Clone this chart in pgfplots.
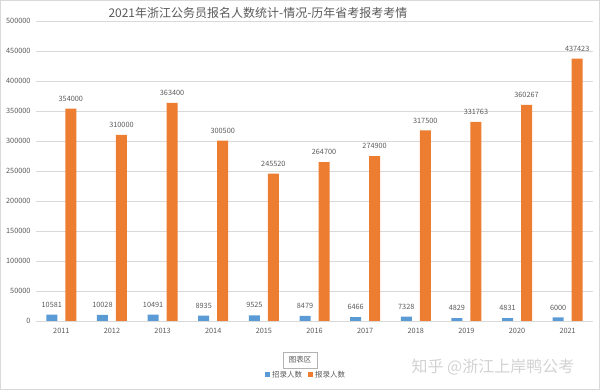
\documentclass[border=0pt]{standalone}
\usepackage{pgfplots}
\pgfplotsset{compat=1.18}
\usepackage{fontspec}
\setmainfont{Noto Sans CJK SC}
\definecolor{blueb}{HTML}{5B9BD5}
\definecolor{orangeb}{HTML}{ED7D31}
\definecolor{txt}{HTML}{595959}
\definecolor{gridc}{HTML}{D9D9D9}
\begin{document}
\begin{tikzpicture}
\path[use as bounding box] (0pt,0pt) rectangle (600pt,390pt);
\draw[gridc, line width=0.8pt] (0.4pt,0.4pt) rectangle (599.6pt,389.6pt);
\begin{axis}[
  at={(36pt,69pt)}, anchor=south west, scale only axis,
  width=557pt, height=300pt,
  xmin=-0.5, xmax=10.5, ymin=0, ymax=500000,
  scaled y ticks=false,
  ytick={0,50000,100000,150000,200000,250000,300000,350000,400000,450000,500000},
  yticklabels={0,50000,100000,150000,200000,250000,300000,350000,400000,450000,500000},
  xtick={0,1,2,3,4,5,6,7,8,9,10},
  xticklabels={2011,2012,2013,2014,2015,2016,2017,2018,2019,2020,2021},
  major tick length=0pt,
  axis line style={draw=none},
  ymajorgrids, grid style={gridc, line width=0.6pt},
  tick label style={font=\fontsize{7.3}{8}\selectfont, text=txt},
  yticklabel style={xshift=-2pt},
  xticklabel style={yshift=-4pt},
  ybar, bar width=11pt,
  point meta=explicit symbolic,
  nodes near coords={\pgfplotspointmeta},
  every node near coord/.append style={font=\fontsize{7.3}{8}\selectfont, text=txt, inner sep=0pt, anchor=south, yshift=7pt},
  legend columns=2,
  legend style={draw=none, fill=none, at={(0.485,-0.18)}, anchor=center, font=\fontsize{7.5}{9}\selectfont, text=txt, /tikz/every even column/.append style={column sep=4pt}},
  legend image code/.code={\fill[#1] (0pt,-2.5pt) rectangle (5pt,2.5pt);},
]
\addplot[fill=blueb, draw=none, bar shift=-9.5pt] coordinates {
(0,10581) [10581] (1,10028) [10028] (2,10491) [10491] (3,8935) [8935] (4,9525) [9525]
(5,8479) [8479] (6,6466) [6466] (7,7328) [7328] (8,4829) [4829] (9,4831) [4831] (10,6000) [6000]};
\addplot[fill=orangeb, draw=none, bar shift=9.5pt] coordinates {
(0,354000) [354000] (1,310000) [310000] (2,363400) [363400] (3,300500) [300500] (4,245520) [245520]
(5,264700) [264700] (6,274900) [274900] (7,317500) [317500] (8,331763) [331763] (9,360267) [360267] (10,437423) [437423]};
\legend{招录人数,报录人数}
\end{axis}
\node[text=txt, font=\fontsize{12}{14}\selectfont] at (258pt,377pt) {2021年浙江公务员报名人数统计-情况-历年省考报考考情};
\node[draw=gray!60, fill=white, text=txt, font=\fontsize{7.5}{9}\selectfont, minimum width=34pt, minimum height=16pt, inner sep=1pt] at (300pt,30pt) {图表区};
\node[text=gray!35, font=\fontsize{16}{18}\selectfont] at (493pt,23pt) {知乎 @浙江上岸鸭公考};
\end{tikzpicture}
\end{document}
